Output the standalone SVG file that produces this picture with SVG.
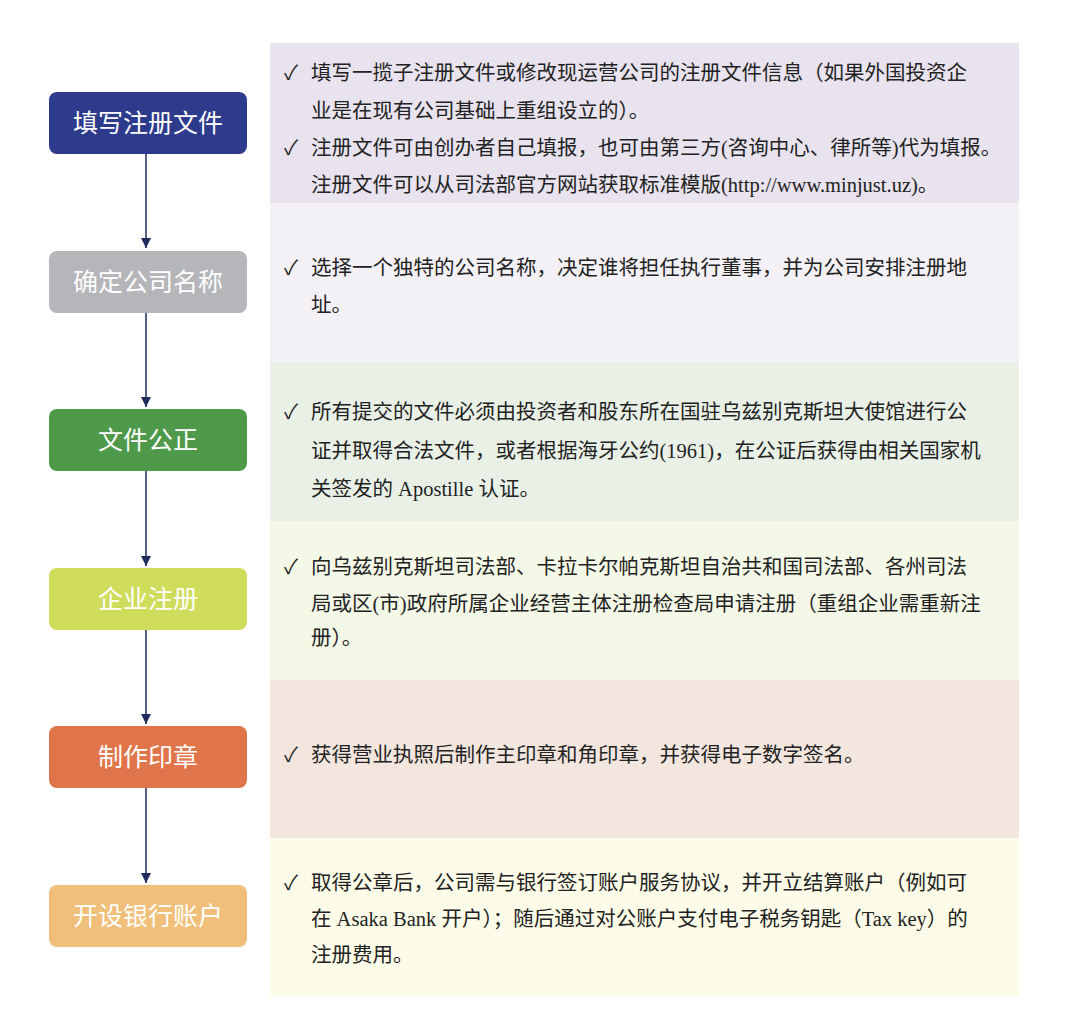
<svg xmlns="http://www.w3.org/2000/svg" width="1080" height="1024" viewBox="0 0 1080 1024">
<defs>
<marker id="a2" viewBox="0 0 10 10" markerWidth="10" markerHeight="10" refX="10" refY="5" orient="auto" markerUnits="userSpaceOnUse"><path d="M0,0 L10,5 L0,10 Z" fill="#1f2d5c"/></marker>
</defs>
<style>
.t{font-family:"Liberation Serif","Noto Sans CJK SC",serif;font-size:20.5px;fill:#222}
.n{font-family:"Noto Sans CJK SC",sans-serif;font-size:25px;fill:#fff;text-anchor:middle}
.c{stroke:#1f2d5c;stroke-width:1.5;fill:none}
</style>
<rect width="1080" height="1024" fill="#fff"/>
<g id="panels">
<rect x="270" y="43" width="749" height="160" fill="#e8e3ee"/>
<rect x="270" y="203" width="749" height="159" fill="#f3f1f6"/>
<rect x="270" y="362" width="749" height="159" fill="#e9f1e7"/>
<rect x="270" y="521" width="749" height="159" fill="#f4f8e7"/>
<rect x="270" y="680" width="749" height="158" fill="#f3e6de"/>
<rect x="270" y="838" width="749" height="158" fill="#fdfce8"/>
</g>
<g id="texts" class="t">
<text x="284" y="80">✓</text><text x="311" y="80">填写一揽子注册文件或修改现运营公司的注册文件信息（如果外国投资企</text>
<text x="311" y="118">业是在现有公司基础上重组设立的）。</text>
<text x="284" y="155">✓</text><text x="311" y="155">注册文件可由创办者自己填报，也可由第三方(咨询中心、律所等)代为填报。</text>
<text x="311" y="192">注册文件可以从司法部官方网站获取标准模版(http://www.minjust.uz)。</text>
<text x="284" y="275">✓</text><text x="311" y="275">选择一个独特的公司名称，决定谁将担任执行董事，并为公司安排注册地</text>
<text x="311" y="312">址。</text>
<text x="284" y="419">✓</text><text x="311" y="419">所有提交的文件必须由投资者和股东所在国驻乌兹别克斯坦大使馆进行公</text>
<text x="311" y="458">证并取得合法文件，或者根据海牙公约(1961)，在公证后获得由相关国家机</text>
<text x="311" y="496">关签发的 Apostille 认证。</text>
<text x="284" y="574">✓</text><text x="311" y="574">向乌兹别克斯坦司法部、卡拉卡尔帕克斯坦自治共和国司法部、各州司法</text>
<text x="311" y="611">局或区(市)政府所属企业经营主体注册检查局申请注册（重组企业需重新注</text>
<text x="311" y="645">册）。</text>
<text x="284" y="762">✓</text><text x="311" y="762">获得营业执照后制作主印章和角印章，并获得电子数字签名。</text>
<text x="284" y="890">✓</text><text x="311" y="890">取得公章后，公司需与银行签订账户服务协议，并开立结算账户（例如可</text>
<text x="311" y="926">在 Asaka Bank 开户）；随后通过对公账户支付电子税务钥匙（Tax key）的</text>
<text x="311" y="962">注册费用。</text>
</g>
<g id="connectors">
<line class="c" x1="146" y1="154" x2="146" y2="248" marker-end="url(#a2)"/>
<line class="c" x1="146" y1="313" x2="146" y2="407" marker-end="url(#a2)"/>
<line class="c" x1="146" y1="471" x2="146" y2="566" marker-end="url(#a2)"/>
<line class="c" x1="146" y1="630" x2="146" y2="724" marker-end="url(#a2)"/>
<line class="c" x1="146" y1="788" x2="146" y2="883" marker-end="url(#a2)"/>
</g>
<g id="n1"><rect x="49" y="92" width="198" height="62" rx="8" fill="#2e3a8c"/><text class="n" x="148" y="132">填写注册文件</text></g>
<g id="n2"><rect x="49" y="251" width="198" height="62" rx="8" fill="#b4b6b9"/><text class="n" x="148" y="291">确定公司名称</text></g>
<g id="n3"><rect x="49" y="409" width="198" height="62" rx="8" fill="#4e9a4a"/><text class="n" x="148" y="449">文件公正</text></g>
<g id="n4"><rect x="49" y="568" width="198" height="62" rx="8" fill="#cfdc5c"/><text class="n" x="148" y="608">企业注册</text></g>
<g id="n5"><rect x="49" y="726" width="198" height="62" rx="8" fill="#e0744a"/><text class="n" x="148" y="766">制作印章</text></g>
<g id="n6"><rect x="49" y="885" width="198" height="62" rx="8" fill="#f0c07a"/><text class="n" x="148" y="925">开设银行账户</text></g>
</svg>
